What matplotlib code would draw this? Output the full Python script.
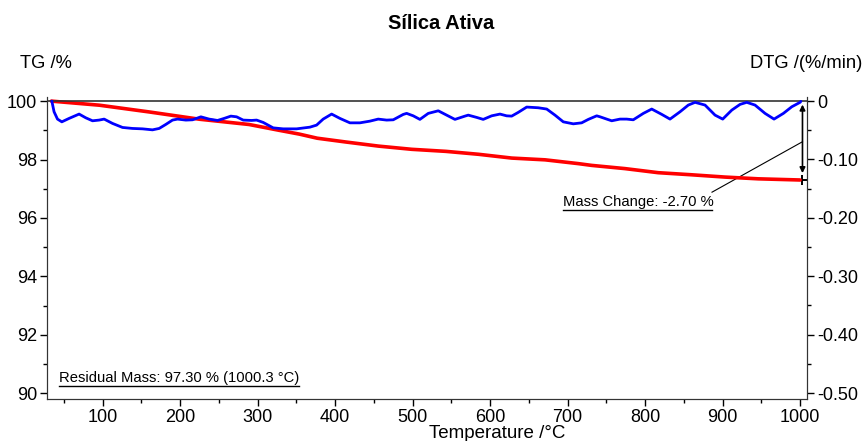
import numpy as np
import matplotlib
matplotlib.use("Agg")
import matplotlib.pyplot as plt
from matplotlib.ticker import MultipleLocator, FuncFormatter

plt.rcParams['font.family'] = ['Liberation Sans', 'DejaVu Sans']
plt.rcParams['axes.unicode_minus'] = False

# TG curve (temperature in °C, mass in %)
tg_temp = [34, 96, 160, 225, 289, 328, 354, 377, 414, 456, 499, 543, 585, 628,
           671, 714, 731, 774, 817, 859, 903, 946, 1000]
tg_mass = [100.0, 99.86, 99.63, 99.38, 99.2, 99.0, 98.87, 98.73, 98.6, 98.46, 98.35,
           98.28, 98.18, 98.05, 97.99, 97.86, 97.8, 97.69, 97.55, 97.48, 97.4, 97.34, 97.30]

# DTG curve (temperature in °C, %/min)
dtg_temp = [34.6, 37.5, 41.9, 47.5, 56.9, 69.8, 78.4, 87.1, 95.6, 102.1, 112.9, 125.8,
            138.7, 151.6, 164.5, 173.1, 181.7, 190.3, 196.8, 207.5, 216.2, 226.9, 237.6,
            248.4, 257, 265.6, 273, 281.5, 292.3, 298.8, 307.3, 320.2, 333.1, 350.4,
            367.6, 376.2, 384.7, 395.6, 406.3, 419.2, 432.1, 445, 455.7, 466.6, 475.1,
            488, 492.4, 500.9, 509.5, 520.3, 533.2, 544, 554.7, 567.6, 571.9, 582.7,
            591.2, 602.1, 612.8, 621.4, 627.9, 636.4, 647.3, 662.2, 673.1, 683.8, 694.5,
            707.4, 718.2, 726.8, 737.6, 742, 750.5, 757, 767.7, 776.3, 784.8, 797.8,
            808.6, 821.5, 832.2, 845.1, 855.8, 864.5, 877.4, 890.3, 900.2, 911.9, 922.6,
            931.2, 941.9, 954.8, 966.4, 978.5, 989.3, 1000, 1001]
dtg_val = [0, -0.0184, -0.0309, -0.0356, -0.0297, -0.0223, -0.0287, -0.0338, -0.0326,
           -0.0309, -0.0383, -0.0452, -0.0469, -0.0476, -0.0493, -0.0469, -0.0400, -0.0326,
           -0.0309, -0.0326, -0.0321, -0.0270, -0.0309, -0.0332, -0.0297, -0.0258, -0.0270,
           -0.0326, -0.0332, -0.0326, -0.0366, -0.0459, -0.0476, -0.0476, -0.0447, -0.0412,
           -0.0309, -0.0223, -0.0297, -0.0373, -0.0373, -0.0344, -0.0309, -0.0326, -0.0321,
           -0.0229, -0.0211, -0.0253, -0.0314, -0.0211, -0.0167, -0.0241, -0.0314, -0.0258,
           -0.0241, -0.0280, -0.0314, -0.0253, -0.0223, -0.0253, -0.0258, -0.0194, -0.0103,
           -0.0115, -0.0137, -0.0241, -0.0356, -0.0390, -0.0373, -0.0314, -0.0253, -0.0270,
           -0.0309, -0.0338, -0.0309, -0.0309, -0.0321, -0.0211, -0.0137, -0.0228, -0.0309,
           -0.0184, -0.0069, -0.0022, -0.0069, -0.0241, -0.0309, -0.0155, -0.0057, -0.0022,
           -0.0069, -0.0211, -0.0309, -0.0211, -0.0098, -0.0022, -0.0005]

residual_text = "Residual Mass: 97.30 % (1000.3 °C)"
change_text = "Mass Change: -2.70 %"

fig = plt.figure(figsize=(8.65, 4.41), dpi=100)
ax = fig.add_axes([0.054, 0.095, 0.879, 0.685])
ax2 = ax.twinx()

ax.plot(tg_temp, tg_mass, color='#ff0000', lw=2.6, zorder=3, solid_capstyle='round')
ax2.plot(dtg_temp, dtg_val, color='#0000ff', lw=2.0, zorder=3,
         solid_capstyle='round', solid_joinstyle='round')
ax2.axhline(0, color='#333333', lw=1.2, zorder=2)

ax.set_xlim(28, 1009)
ax.set_ylim(89.8, 100.14)
ax2.set_ylim(-0.5103, 0.0069)

for a in (ax, ax2):
    a.spines['top'].set_visible(False)
    for s in a.spines.values():
        s.set_color('#333333')

ax.xaxis.set_major_locator(MultipleLocator(100))
ax.xaxis.set_minor_locator(MultipleLocator(50))
ax.yaxis.set_major_locator(MultipleLocator(2))
ax.yaxis.set_minor_locator(MultipleLocator(1))
ax2.yaxis.set_major_locator(MultipleLocator(0.1))
ax2.yaxis.set_minor_locator(MultipleLocator(0.05))
ax2.yaxis.set_major_formatter(FuncFormatter(lambda v, p: "0" if abs(v) < 1e-9 else f"{v:.2f}"))

ax.tick_params(axis='both', which='major', labelsize=13, length=5, width=1, pad=2)
ax.tick_params(axis='both', which='minor', length=3, width=1)
ax2.tick_params(axis='y', which='major', labelsize=13, length=5, width=1, pad=2)
ax2.tick_params(axis='y', which='minor', length=3, width=1)
ax.set_xticks([t for t in range(100, 1001, 100)])

fig.text(0.575, 0.017, "Temperature /°C", fontsize=13.5, ha='center', va='center')
fig.text(0.023, 0.857, "TG /%", fontsize=13.2, ha='left', va='center')
fig.text(0.997, 0.857, "DTG /(%/min)", fontsize=13.2, ha='right', va='center')
fig.text(0.51, 0.946, "Sílica Ativa", fontsize=14.5, fontweight='bold', ha='center', va='center')

# residual mass label
ax.text(0.016, 0.058, residual_text, transform=ax.transAxes, fontsize=10.6, ha='left', va='baseline')
ax.plot([0.016, 0.332], [0.043, 0.043], transform=ax.transAxes, color='black', lw=1, clip_on=False)

# mass change label with leader and arrow
ax.text(0.679, 0.640, change_text, transform=ax.transAxes, fontsize=10.6, ha='left', va='baseline')
ax.plot([0.679, 0.875], [0.625, 0.625], transform=ax.transAxes, color='black', lw=1, clip_on=False)
ax.plot([0.875, 0.994], [0.685, 0.852], transform=ax.transAxes, color='black', lw=0.8, clip_on=False)
ax.annotate("", xy=(0.994, 0.748), xytext=(0.994, 0.975), xycoords='axes fraction',
            arrowprops=dict(arrowstyle='<|-|>', color='black', lw=1.2, mutation_scale=8,
                            shrinkA=0, shrinkB=0))
ax.plot([0.994], [0.725], transform=ax.transAxes, marker='+', color='black', ms=7, mew=1.4,
        clip_on=False)

fig.savefig("out.png", dpi=100)
